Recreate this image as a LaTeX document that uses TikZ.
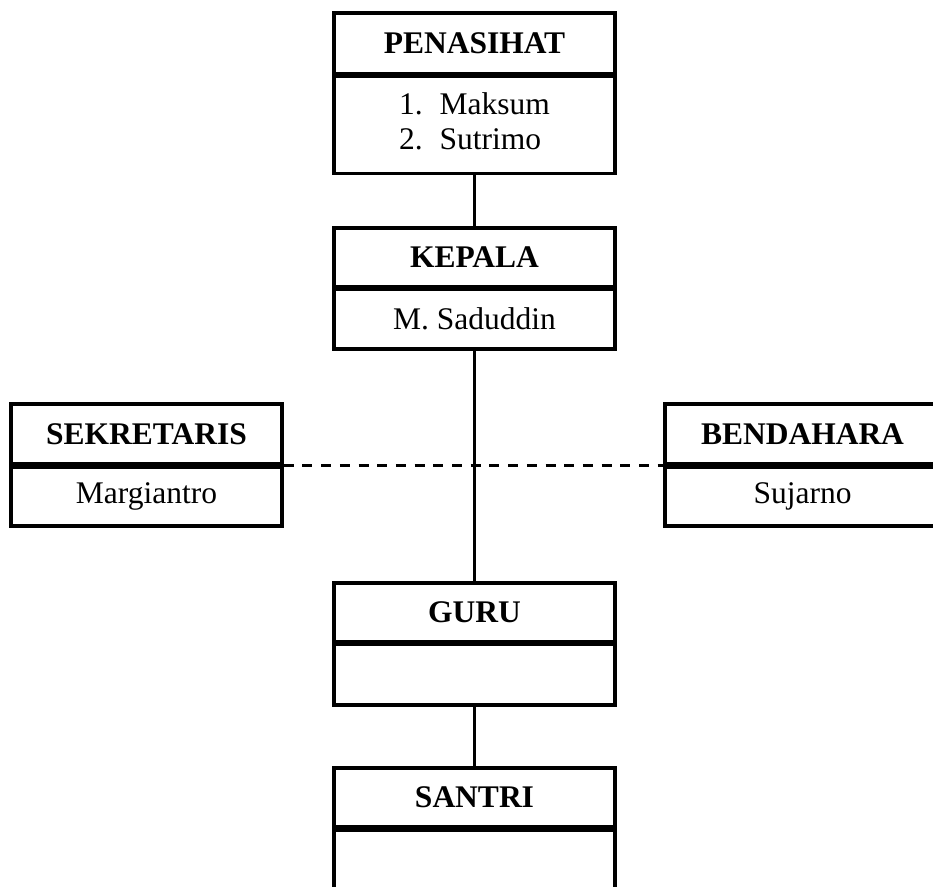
\documentclass[tikz,border=0pt]{standalone}
\usepackage{fontspec}
\setmainfont{Liberation Serif}
\begin{document}
\begin{tikzpicture}[x=1pt,y=-1pt,
  hdr/.style={draw, line width=3.4pt, inner sep=0pt, font=\fontsize{31.5}{36}\selectfont\bfseries},
  bdy/.style={draw, line width=3.4pt, inner sep=0pt, font=\fontsize{31.5}{36}\selectfont},
  link/.style={line width=3.4pt},
  dashlink/.style={line width=2.7pt, dash pattern=on 10pt off 8.7pt}]
\useasboundingbox (0,0) rectangle (933,886);
\clip (0,0) rectangle (933,886);
% PENASIHAT
\node[hdr, minimum width=281, minimum height=61] (penh) at (474.5,43.5) {PENASIHAT};
\node[bdy, minimum width=281, minimum height=97] (penb) at (474.5,125) {\begin{tabular}{@{}l@{\hspace{17pt}}l@{}}1.&Maksum\\[-1pt]2.&Sutrimo\end{tabular}};
% KEPALA
\node[hdr, minimum width=281, minimum height=59] (keph) at (474.5,257.5) {KEPALA};
\node[bdy, minimum width=281, minimum height=60] (kepb) at (474.5,319) {M. Saduddin};
% SEKRETARIS
\node[hdr, minimum width=271, minimum height=60] (sekh) at (146.5,434) {SEKRETARIS};
\node[bdy, minimum width=271, minimum height=59] (sekb) at (146.5,496.5) {Margiantro};
% BENDAHARA
\node[hdr, minimum width=275, minimum height=60] (benh) at (802.5,434) {BENDAHARA};
\node[bdy, minimum width=275, minimum height=59] (benb) at (802.5,496.5) {Sujarno};
% GURU
\node[hdr, minimum width=281, minimum height=59] (guruh) at (474.5,612.5) {GURU};
\node[bdy, minimum width=281, minimum height=61] (gurub) at (474.5,674.5) {};
% SANTRI
\node[hdr, minimum width=281, minimum height=59] (santrih) at (474.5,797.5) {SANTRI};
\node[bdy, minimum width=281, minimum height=64] (santrib) at (474.5,862) {};
% connectors
\draw[link] (penb.south) -- (keph.north);
\draw[link] (kepb.south) -- (guruh.north);
\draw[link] (gurub.south) -- (santrih.north);
\draw[dashlink] (sekh.south east) -- (benh.south west);
\end{tikzpicture}
\end{document}
